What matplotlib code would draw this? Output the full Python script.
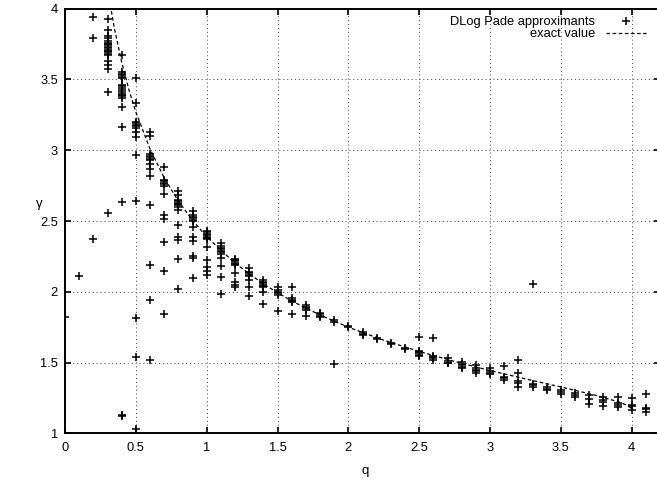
"""Exponent gamma of the 2D Potts model: DLog Pade approximants vs exact value."""

import matplotlib
matplotlib.use("Agg")
import matplotlib.pyplot as plt
from matplotlib.lines import Line2D
from matplotlib.ticker import FuncFormatter, MultipleLocator

plt.rcParams["font.family"] = ["Liberation Sans", "DejaVu Sans"]
plt.rcParams["lines.scale_dashes"] = False

# DLog Pade approximant estimates, one list of gamma values per q column
pade_q = [0.0, 0.1, 0.2, 0.3, 0.4, 0.5, 0.6, 0.7, 0.8, 0.9,
          1.0, 1.1, 1.2, 1.3, 1.4, 1.5, 1.6, 1.7, 1.8, 1.9,
          2.0, 2.1, 2.2, 2.3, 2.4, 2.5, 2.6, 2.7, 2.8, 2.9,
          3.0, 3.1, 3.2, 3.3, 3.4, 3.5, 3.6, 3.7, 3.8, 3.9,
          4.0, 4.1]
pade_gamma = [
    [1.824],
    [2.114],
    [3.939, 3.790, 2.373],
    [3.93, 3.85, 3.81, 3.79, 3.77, 3.76, 3.75, 3.74, 3.73, 3.72, 3.71, 3.70,
     3.69, 3.68, 3.67, 3.63, 3.60, 3.57, 3.41, 2.554],
    [3.672, 3.554, 3.54, 3.531, 3.52, 3.508, 3.461, 3.45, 3.437, 3.425, 3.413,
     3.40, 3.390, 3.38, 3.367, 3.308, 3.167, 2.636, 1.13, 1.12],
    [3.508, 3.331, 3.20, 3.19, 3.18, 3.17, 3.16, 3.131, 3.095, 2.966, 2.643,
     1.813, 1.537, 1.029],
    [3.13, 3.10, 2.97, 2.96, 2.95, 2.94, 2.93, 2.90, 2.87, 2.82, 2.61, 2.19,
     1.94, 1.52],
    [2.88, 2.79, 2.78, 2.77, 2.76, 2.75, 2.69, 2.54, 2.515, 2.35, 2.15, 1.84],
    [2.71, 2.685, 2.65, 2.64, 2.63, 2.62, 2.61, 2.60, 2.575, 2.47, 2.39, 2.365,
     2.23, 2.02],
    [2.57, 2.545, 2.53, 2.52, 2.51, 2.50, 2.455, 2.39, 2.36, 2.25, 2.24, 2.095],
    [2.43, 2.42, 2.41, 2.40, 2.39, 2.38, 2.37, 2.314, 2.225, 2.173, 2.149, 2.119],
    [2.343, 2.32, 2.31, 2.30, 2.29, 2.28, 2.27, 2.237, 2.182, 2.107, 1.982],
    [2.235, 2.225, 2.215, 2.205, 2.195, 2.19, 2.135, 2.071, 2.048, 2.032],
    [2.166, 2.14, 2.13, 2.12, 2.11, 2.083, 2.032, 1.970],
    [2.08, 2.07, 2.06, 2.05, 2.04, 2.035, 2.001, 1.914],
    [2.036, 2.01, 2.00, 1.99, 1.98, 1.867],
    [2.036, 1.955, 1.945, 1.935, 1.925, 1.843],
    [1.905, 1.895, 1.885, 1.875, 1.83],
    [1.85, 1.84, 1.83, 1.825],
    [1.80, 1.79, 1.490],
    [1.76, 1.75],
    [1.718, 1.705, 1.695],
    [1.675, 1.665],
    [1.64, 1.63],
    [1.605, 1.595],
    [1.683, 1.585, 1.575, 1.565, 1.555, 1.545],
    [1.676, 1.55, 1.54, 1.53, 1.52],
    [1.53, 1.51, 1.50, 1.495],
    [1.505, 1.49, 1.48, 1.47, 1.46],
    [1.48, 1.46, 1.45, 1.44, 1.43],
    [1.46, 1.44, 1.43, 1.42],
    [1.475, 1.40, 1.39, 1.375],
    [1.52, 1.425, 1.37, 1.355, 1.33],
    [2.053, 1.35, 1.34, 1.33],
    [1.325, 1.315, 1.305],
    [1.31, 1.295, 1.28],
    [1.285, 1.27, 1.26],
    [1.27, 1.24, 1.21],
    [1.255, 1.236, 1.225, 1.194],
    [1.255, 1.213, 1.20, 1.184],
    [1.248, 1.20, 1.194, 1.165],
    [1.276, 1.181, 1.17, 1.153],
]

# exact value of gamma
exact_q = [0.30, 0.35, 0.40, 0.45, 0.50, 0.60, 0.70, 0.80, 0.90, 1.00,
           1.20, 1.40, 1.60, 1.80, 2.00, 2.25, 2.50, 2.75, 3.00, 3.25,
           3.50, 3.75, 3.90, 3.95, 3.99, 4.00]
exact_gamma = [4.139, 3.853, 3.622, 3.431, 3.270, 3.009, 2.805, 2.641, 2.505, 2.389,
               2.202, 2.055, 1.935, 1.836, 1.750, 1.658, 1.579, 1.508, 1.444, 1.385,
               1.328, 1.268, 1.225, 1.206, 1.183, 1.167]

W, H = 657, 480
fig = plt.figure(figsize=(W / 100, H / 100), dpi=100)
ax = fig.add_axes([65 / W, 46.6 / H, 595 / W, 424.8 / H])

xs = [q for q, col in zip(pade_q, pade_gamma) for _ in col]
ys = [g for col in pade_gamma for g in col]
ax.plot(xs, ys, linestyle="none", marker="+", markersize=6.2,
        markeredgewidth=1.1, color="black")
ax.plot(exact_q, exact_gamma, color="black", linewidth=0.9,
        dashes=(2.6, 1.8))

ax.set_xlim(0, 4.2)
ax.set_ylim(1, 4)
ax.xaxis.set_major_locator(MultipleLocator(0.5))
ax.yaxis.set_major_locator(MultipleLocator(0.5))
fmt = FuncFormatter(lambda v, _: f"{v:g}")
ax.xaxis.set_major_formatter(fmt)
ax.yaxis.set_major_formatter(fmt)

ax.grid(True, color="0.35", linewidth=0.7, dashes=(0.8, 2.0))
ax.tick_params(direction="in", length=4.5, width=1.2, top=True, right=True,
               labelsize=9.3)
ax.tick_params(axis="x", pad=6)
ax.tick_params(axis="y", pad=5)
for side in ["left", "bottom", "top", "right"]:
    ax.spines[side].set_linewidth(1.4)

ax.set_xlabel("q", fontsize=9.5)
ax.xaxis.set_label_coords(0.504, -0.075)
ax.set_ylabel("γ", fontsize=9.5, rotation=0, va="center", ha="center")
ax.yaxis.set_label_coords(-0.043, 0.54)

handles = [
    Line2D([], [], linestyle="none", marker="+", markersize=6.2,
           markeredgewidth=1.1, color="black"),
    Line2D([], [], color="black", linewidth=0.9, dashes=(2.6, 1.8)),
]
ax.legend(handles, ["DLog Pade approximants", "exact value"],
          loc="upper right", bbox_to_anchor=(646 / W, 1 - 16 / H),
          bbox_transform=fig.transFigure, frameon=False, markerfirst=False,
          handlelength=3.1, handletextpad=0.85, labelspacing=0.0,
          borderpad=0, borderaxespad=0, fontsize=9.3)

fig.savefig("out.png", dpi=100)
